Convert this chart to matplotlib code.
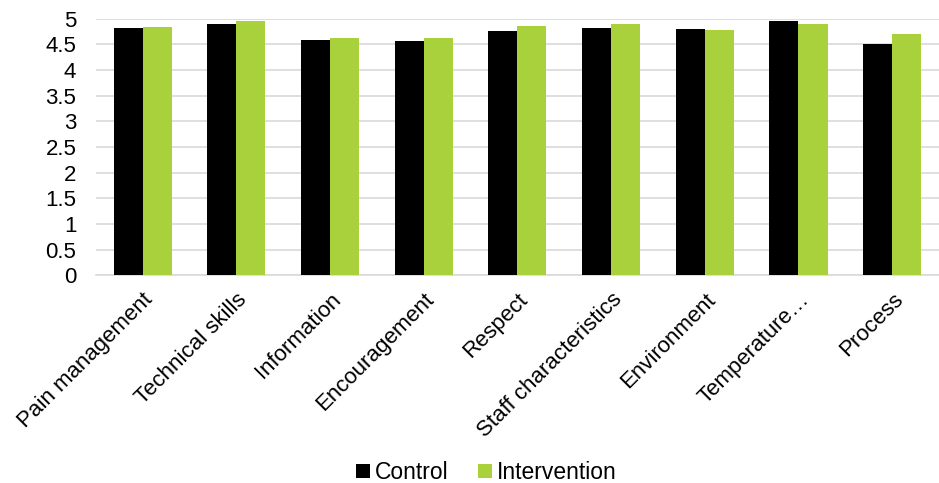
import numpy as np
import matplotlib
matplotlib.use("Agg")
import matplotlib.pyplot as plt
from matplotlib.ticker import FuncFormatter

categories = ["Pain management", "Technical skills", "Information", "Encouragement",
              "Respect", "Staff characteristics", "Environment", "Temperature…", "Process"]
control = [4.83, 4.90, 4.59, 4.57, 4.77, 4.83, 4.81, 4.95, 4.51]
intervention = [4.85, 4.95, 4.62, 4.62, 4.87, 4.89, 4.79, 4.90, 4.71]

BLACK = "#000000"
GREEN = "#A9D13B"
GRID = "#D9D9D9"

plt.rcParams["font.family"] = ["Liberation Sans", "DejaVu Sans"]

fig = plt.figure(figsize=(9.39, 4.83), dpi=100)
ax = fig.add_axes([0.102, 0.430, 0.898, 0.531])

x = np.arange(len(categories))
w = 0.31
ax.bar(x - w / 2, control, width=w, color=BLACK, label="Control", zorder=3)
ax.bar(x + w / 2, intervention, width=w, color=GREEN, label="Intervention", zorder=3)

ax.set_xlim(-0.5, len(categories) - 0.5)
ax.set_ylim(0, 5)
ax.set_yticks(np.arange(0, 5.01, 0.5))
ax.yaxis.set_major_formatter(FuncFormatter(lambda v, p: f"{v:g}"))
ax.grid(True, axis="y", color=GRID, lw=1.2, zorder=0)
for s in ["top", "right", "left"]:
    ax.spines[s].set_visible(False)
ax.spines["bottom"].set_color(GRID)
ax.spines["bottom"].set_linewidth(1.2)
ax.tick_params(axis="both", length=0, labelsize=16, colors="#000000")
ax.tick_params(axis="y", pad=14)
ax.tick_params(axis="x", pad=10)

ax.set_xticks(x)
ax.set_xticklabels(categories, rotation=45, ha="right", rotation_mode="anchor")

fig.legend(loc="lower center", bbox_to_anchor=(0.518, -0.045), ncol=2, frameon=False,
           fontsize=16.5, handlelength=0.6, handleheight=0.6, handletextpad=0.2,
           columnspacing=1.3)

fig.savefig("out.png", dpi=100)
